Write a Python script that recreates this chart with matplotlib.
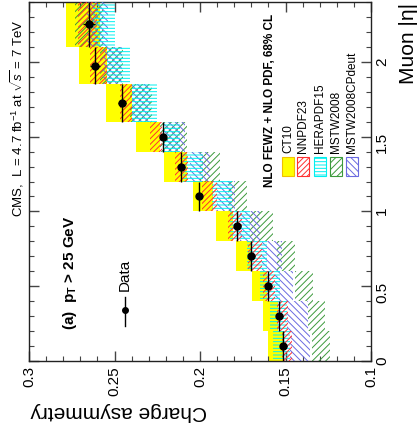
import numpy as np
import matplotlib.pyplot as plt
from matplotlib.patches import Rectangle
from matplotlib.lines import Line2D
from matplotlib.ticker import MultipleLocator

plt.rcParams['font.family'] = ['Liberation Sans', 'DejaVu Sans']
plt.rcParams['mathtext.fontset'] = 'custom'
plt.rcParams['mathtext.rm'] = 'Liberation Sans'
plt.rcParams['mathtext.it'] = 'Liberation Sans:italic'
plt.rcParams['mathtext.bf'] = 'Liberation Sans:bold'
plt.rcParams['hatch.linewidth'] = 0.7

# muon |eta| bins
eta_edges = [0, 0.2, 0.4, 0.6, 0.8, 1.0, 1.2, 1.4, 1.6, 1.85, 2.1, 2.4]

# measured charge asymmetry
asym = [0.1514, 0.1537, 0.160, 0.170, 0.1783, 0.2006, 0.211, 0.2216, 0.2456, 0.2614, 0.265]
asym_err = [0.002, 0.002, 0.002, 0.002, 0.002, 0.002, 0.002, 0.002, 0.0025, 0.003, 0.0035]

# NLO FEWZ + NLO PDF predictions, 68% CL (low, high)
ct10_lo = [0.1514, 0.1543, 0.1608, 0.1695, 0.1807, 0.1924, 0.2076, 0.2234, 0.2397, 0.2544, 0.2585]
ct10_hi = [0.1602, 0.1631, 0.1695, 0.1789, 0.1906, 0.2041, 0.2210, 0.2374, 0.2550, 0.2708, 0.2784]
nnpdf_lo = [0.1461, 0.1485, 0.1561, 0.1637, 0.1754, 0.1900, 0.2070, 0.2222, 0.2397, 0.2544, 0.2602]
nnpdf_hi = [0.1520, 0.1549, 0.1631, 0.1719, 0.1836, 0.1988, 0.2146, 0.2292, 0.2468, 0.2643, 0.2713]
hera_lo = [0.1473, 0.1491, 0.1532, 0.1608, 0.1707, 0.1812, 0.1982, 0.2117, 0.2251, 0.2409, 0.2497]
hera_hi = [0.1573, 0.1590, 0.1649, 0.1725, 0.1824, 0.1929, 0.2099, 0.2216, 0.2397, 0.2544, 0.2626]
mstw_lo = [0.1239, 0.1268, 0.1339, 0.1444, 0.1573, 0.1725, 0.1883, 0.2076, 0.2280, 0.2450, 0.2567]
mstw_hi = [0.1345, 0.1368, 0.1444, 0.1549, 0.1707, 0.1836, 0.2000, 0.2234, 0.2409, 0.2585, 0.2731]
deut_lo = [0.1356, 0.1368, 0.1456, 0.1520, 0.1649, 0.1795, 0.1941, 0.2087, 0.2292, 0.2456, 0.2538]
deut_hi = [0.1473, 0.1491, 0.1561, 0.1637, 0.1766, 0.1900, 0.2058, 0.2216, 0.2397, 0.2567, 0.2661]

pdf_names = ['CT10', 'NNPDF23', 'HERAPDF15', 'MSTW2008', 'MSTW2008CPdeut']

W, H = 420, 439
fig = plt.figure(figsize=(W / 100, H / 100), dpi=100)
ax = fig.add_axes([29 / W, 1 - 362 / H, 342 / W, 359 / H])

edges = np.array(eta_edges)
centers = (edges[:-1] + edges[1:]) / 2
widths = np.diff(edges)

# bands (figure is drawn rotated: asymmetry along x, eta along y)
yellow = '#ffff00'
red = '#ff3030'
cyan = '#00f0f0'
green = '#3c9a3c'
blue = '#6a6ae0'
hera_hatch = '-----'

ax.barh(centers, np.array(ct10_hi) - np.array(ct10_lo), left=ct10_lo, height=widths,
        color=yellow, linewidth=0, zorder=1)
ax.barh(centers, np.array(mstw_hi) - np.array(mstw_lo), left=mstw_lo, height=widths,
        facecolor='none', edgecolor=green, hatch='/////', linewidth=0, zorder=2)
ax.barh(centers, np.array(deut_hi) - np.array(deut_lo), left=deut_lo, height=widths,
        facecolor='none', edgecolor=blue, hatch='\\\\\\\\\\', linewidth=0, zorder=3)
ax.barh(centers, np.array(hera_hi) - np.array(hera_lo), left=hera_lo, height=widths,
        facecolor='none', edgecolor=cyan, hatch=hera_hatch, linewidth=0, zorder=4)
ax.barh(centers, np.array(nnpdf_hi) - np.array(nnpdf_lo), left=nnpdf_lo, height=widths,
        facecolor='none', edgecolor=red, hatch='//////', linewidth=0, zorder=5)

ax.errorbar(asym, centers, xerr=asym_err, yerr=widths / 2, fmt='o', color='black',
            ms=5, elinewidth=1, capsize=0, zorder=10)

ax.set_xlim(0.3, 0.1)
ax.set_ylim(0, 2.4)
ax.xaxis.set_major_locator(MultipleLocator(0.05))
ax.xaxis.set_minor_locator(MultipleLocator(0.01))
ax.yaxis.set_major_locator(MultipleLocator(0.5))
ax.yaxis.set_minor_locator(MultipleLocator(0.1))
ax.set_xticks([0.3, 0.25, 0.2, 0.15, 0.1])
ax.set_xticklabels(['0.3', '0.25', '0.2', '0.15', '0.1'])
ax.set_yticks([0, 0.5, 1, 1.5, 2])
ax.set_yticklabels(['0', '0.5', '1', '1.5', '2'])
ax.tick_params(axis='both', which='both', direction='in', top=True, bottom=True,
               left=True, right=True, labelleft=False, labelright=True,
               color='#444444', labelsize=11, labelrotation=90, pad=3)
ax.tick_params(which='major', length=7, width=1)
ax.tick_params(which='minor', length=3.5, width=0.8)
for s in ax.spines.values():
    s.set_linewidth(1)
    s.set_color('#222222')

def fx(x):
    return x / W

def fy(y):
    return 1 - y / H

fig.text(fx(30), fy(412), 'Charge asymmetry', rotation=180, fontsize=15,
         ha='left', va='center')
fig.text(fx(408), fy(3), 'Muon |η|', rotation=90, fontsize=15, ha='center', va='top')

fig.text(fx(17), fy(217), r'CMS,  L = 4.7 fb$^{-1}$ at $\sqrt{s}$ = 7 TeV', rotation=90,
         fontsize=9.5, ha='center', va='bottom')
fig.text(fx(70), fy(330), r'(a)  $\mathbf{p_{T}}$ > 25 GeV', rotation=90, fontsize=11,
         fontweight='bold', ha='center', va='bottom')

# data legend entry
fig.add_artist(Line2D([fx(125), fx(125)], [fy(298), fy(327)], color='black', lw=1))
fig.add_artist(Line2D([fx(125)], [fy(311)], marker='o', ms=4, color='black'))
fig.text(fx(125), fy(291), 'Data', rotation=90, fontsize=11, ha='center', va='bottom')

fig.text(fx(270), fy(187), 'NLO FEWZ + NLO PDF, 68% CL', rotation=90, fontsize=8.5,
         fontweight='bold', ha='center', va='bottom')

leg_x = [288, 303, 320, 336, 352]
leg_style = [dict(facecolor=yellow, edgecolor='#f0c000'),
             dict(facecolor='white', edgecolor=red, hatch='//////'),
             dict(facecolor='white', edgecolor=cyan, hatch=hera_hatch),
             dict(facecolor='white', edgecolor=green, hatch='/////'),
             dict(facecolor='white', edgecolor=blue, hatch='\\\\\\\\\\')]
for xc, name, st in zip(leg_x, pdf_names, leg_style):
    fig.add_artist(Rectangle((fx(xc - 6), fy(177)), 12 / W, 19 / H, lw=0.8, **st))
    fig.text(fx(xc), fy(153), name, rotation=90, fontsize=8.5, ha='center', va='bottom')

fig.savefig('out.png', dpi=100)
